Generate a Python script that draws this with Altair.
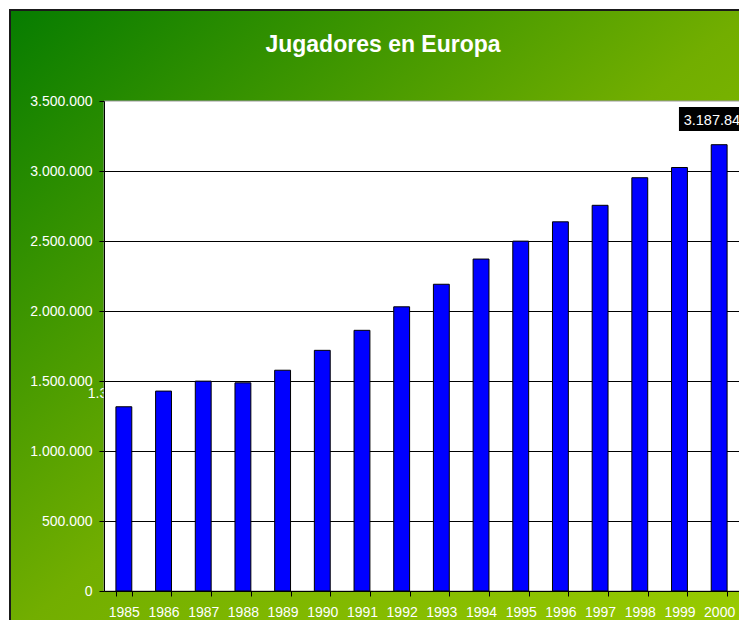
import altair as alt
import pandas as pd

# ---- data ----
years = ["1985", "1986", "1987", "1988", "1989", "1990", "1991", "1992",
         "1993", "1994", "1995", "1996", "1997", "1998", "1999", "2000"]
players = [1316000, 1428000, 1499000, 1487000, 1577000, 1719000, 1862000, 2030000,
           2191000, 2371000, 2499000, 2637000, 2755000, 2952000, 3025000, 3187841]
y_ticks = [0, 500000, 1000000, 1500000, 2000000, 2500000, 3000000, 3500000]
grid_lines = [500000, 1000000, 1500000, 2000000, 2500000, 3000000]
title_text = "Jugadores en Europa"

W, H = 635, 490
PAD_L, PAD_T, PAD_R, PAD_B = 96, 93, 0, 29
FONT = "Liberation Sans"

df = pd.DataFrame({"year": years, "v": players})
df_grid = pd.DataFrame({"g": grid_lines})
one = pd.DataFrame({"a": [0]})

fmt = "replace(format(datum.value, ','), regexp(',', 'g'), '.')"

x_axis = alt.Axis(title=None, labelAngle=0, tickBand="extent", tickSize=5,
                  tickColor="#000000", domainColor="#000000", labelColor="white",
                  labelFont=FONT, labelFontSize=14, labelPadding=9, grid=False,
                  zindex=1)
y_axis = alt.Axis(title=None, values=y_ticks, tickSize=5, tickColor="#000000",
                  domainColor="#000000", labelColor="white", labelFont=FONT,
                  labelFontSize=14, labelPadding=7, grid=False, labelExpr=fmt,
                  zindex=1)

xscale = alt.Scale(paddingInner=0.6, paddingOuter=0.3)
yscale = alt.Scale(domain=[0, 3500000], nice=False)

X = alt.X("year:N", scale=xscale, axis=x_axis, sort=years)
Y = alt.Y("v:Q", scale=yscale, axis=y_axis)

gradient = {
    "gradient": "linear", "x1": 0, "y1": 0, "x2": 1, "y2": 1,
    "stops": [
        {"offset": 0, "color": "#067c00"},
        {"offset": 0.5, "color": "#72ae00"},
        {"offset": 1, "color": "#9acc00"},
    ],
}

bg = alt.Chart(one).mark_rect(fill=gradient, stroke="#1a1a1a", strokeWidth=2).encode(
    x=alt.value(-94), x2=alt.value(W + 14), y=alt.value(-91), y2=alt.value(H + 45)
)
title = alt.Chart(one).mark_text(
    text=title_text, color="white", font=FONT, fontSize=23, fontWeight="bold",
    align="center", baseline="alphabetic"
).encode(x=alt.value(279), y=alt.value(-49))

# data label (white); only the part outside the white plot area shows,
# as in the reference
labels = alt.Chart(df).transform_filter("datum.year == '1985'").transform_calculate(
    lab="replace(format(datum.v, ','), regexp(',', 'g'), '.')"
).mark_text(color="white", font=FONT, fontSize=14, dx=-5, dy=-9,
            baseline="alphabetic").encode(x=X, y=Y, text="lab:N")
plotbg = alt.Chart(one).mark_rect(fill="white", stroke="#9a9a9a", strokeWidth=1).encode(
    x=alt.value(0), x2=alt.value(W + 10), y=alt.value(0), y2=alt.value(H)
)
grid = alt.Chart(df_grid).mark_rule(color="#000000", strokeWidth=1, yOffset=0.5).encode(
    y=alt.Y("g:Q", scale=yscale, axis=y_axis)
)
bars = alt.Chart(df).mark_bar(color="#0000ff", stroke="#000000", strokeWidth=1).encode(
    x=X, y=Y
)
box = alt.Chart(df).transform_filter("datum.year == '2000'").mark_point(
    shape="M-1,-0.325H1V0.325H-1Z", size=74 * 74, filled=True, color="#000000",
    opacity=1, strokeWidth=0, xOffset=-3.2, yOffset=-25.7
).encode(x=X, y=Y)
boxtext = alt.Chart(df).transform_filter("datum.year == '2000'").transform_calculate(
    lab="replace(format(datum.v, ','), regexp(',', 'g'), '.')"
).mark_text(color="white", font=FONT, fontSize=14.5, dx=-3.2, dy=-19.7,
            baseline="alphabetic").encode(x=X, y=Y, text="lab:N")

chart = alt.layer(bg, title, labels, plotbg, grid, bars, box, boxtext).properties(
    width=W, height=H,
    autosize=alt.AutoSizeParams(type="none"),
    padding={"left": PAD_L, "top": PAD_T, "right": PAD_R, "bottom": PAD_B},
).configure_view(stroke=None).configure(background="white")

chart.save("out.html", embed_options={"renderer": "svg", "actions": False})
